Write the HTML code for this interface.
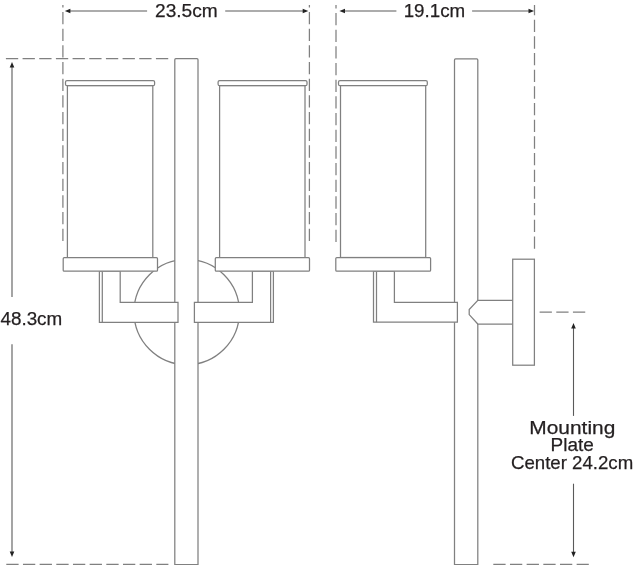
<!DOCTYPE html>
<html><head><meta charset="utf-8">
<style>
html,body{margin:0;padding:0;background:#fff;}
body{width:634px;height:565px;overflow:hidden;}
svg{display:block;}
#w{width:634px;height:565px;will-change:transform;}
text{font-family:"Liberation Sans",sans-serif;fill:#231f20;}
</style></head>
<body><div id="w">
<svg width="634" height="565" viewBox="0 0 634 565">
<rect x="0" y="0" width="634" height="565" fill="#fff"/>
<g fill="none" stroke="#808080" stroke-width="1.25">
  <!-- LEFT DRAWING -->
  <circle cx="186.7" cy="312" r="52.7"/>
  <path d="M174.8 564.6 L174.8 59.7 Q174.8 58.7 175.8 58.7 L197.0 58.7 Q198.0 58.7 198.0 59.7 L198.0 564.6 Z" fill="#fff"/>
  <!-- left arm -->
  <path d="M99.4 271 L99.4 322.3 L178 322.3 L178 302.3 L120.2 302.3 L120.2 271 Z" fill="#fff"/>
  <line x1="102.3" y1="271" x2="102.3" y2="322.3"/>
  <!-- right arm -->
  <path d="M273.4 271 L273.4 322.3 L194.4 322.3 L194.4 302.3 L252.4 302.3 L252.4 271 Z" fill="#fff"/>
  <line x1="270.6" y1="271" x2="270.6" y2="322.3"/>
  <!-- left lamp -->
  <rect x="67.4" y="85.5" width="85.4" height="172.2" fill="#fff"/>
  <rect x="65.5" y="80.5" width="89.1" height="5.2" rx="1.5" fill="#fff"/>
  <rect x="63.2" y="257.7" width="94.3" height="13.5" rx="1" fill="#fff"/>
  <!-- right lamp -->
  <rect x="219.6" y="85.5" width="85.4" height="172.2" fill="#fff"/>
  <rect x="218.1" y="80.5" width="88.9" height="5.2" rx="1.5" fill="#fff"/>
  <rect x="215.3" y="257.7" width="94.2" height="13.5" rx="1" fill="#fff"/>

  <!-- SIDE DRAWING -->
  <path d="M454.5 564.6 L454.5 59.9 Q454.5 58.9 455.5 58.9 L476.8 58.9 Q477.8 58.9 477.8 59.9 L477.8 564.6 Z" fill="#fff"/>
  <path d="M512.7 300.3 L477.8 300.3 L469.2 309.6 L469.2 314.6 L477.8 324 L512.7 324 Z" fill="#fff" stroke="none"/>
  <path d="M512.7 300.3 L477.8 300.3 L469.2 309.6 L469.2 314.6 L477.8 324 L512.7 324"/>
  <rect x="512.7" y="259.2" width="21.7" height="106" fill="#fff"/>
  <path d="M373.5 271.2 L373.5 322.2 L457.4 322.2 L457.4 302.3 L394.4 302.3 L394.4 271.2 Z" fill="#fff"/>
  <line x1="376.5" y1="271.2" x2="376.5" y2="322.2"/>
  <rect x="340.5" y="85.4" width="85.2" height="172.1" fill="#fff"/>
  <rect x="338.5" y="80.6" width="88.8" height="5.1" rx="1.5" fill="#fff"/>
  <rect x="335.8" y="257.5" width="94.8" height="13.7" rx="1" fill="#fff"/>
</g>
<!-- dashed -->
<g fill="none" stroke="#808080" stroke-width="1.25" stroke-dasharray="12.3 4.37">
  <line x1="62.9" y1="5" x2="62.9" y2="241" stroke-dashoffset="9.7"/>
  <line x1="309.4" y1="5" x2="309.4" y2="241" stroke-dashoffset="9.7"/>
  <line x1="336.0" y1="5" x2="336.0" y2="242.5" stroke-dashoffset="8.7"/>
  <line x1="534.5" y1="5" x2="534.5" y2="249.4" stroke-dashoffset="2.0"/>
  <line x1="5.9" y1="58.6" x2="168.4" y2="58.6"/>
  <line x1="6.3" y1="564.3" x2="168.4" y2="564.3"/>
  <line x1="493.3" y1="564.3" x2="588.8" y2="564.3"/>
  <line x1="539.6" y1="312.1" x2="585.3" y2="312.1"/>
</g>
<!-- arrows -->
<g fill="none" stroke="#5a5a5a" stroke-width="1.1">
  <line x1="68" y1="11" x2="147.1" y2="11"/>
  <line x1="225.2" y1="11" x2="305" y2="11"/>
  <line x1="343" y1="11" x2="396.4" y2="11"/>
  <line x1="472.1" y1="11" x2="531" y2="11"/>
  <line x1="12" y1="65" x2="12" y2="297"/>
  <line x1="12" y1="344.3" x2="12" y2="554"/>
  <line x1="573.5" y1="326" x2="573.5" y2="415.9"/>
  <line x1="573.5" y1="483.7" x2="573.5" y2="554"/>
</g>
<g fill="#222" stroke="none">
  <path d="M64.80 11.00 L70.40 8.70 L70.40 13.30 Z"/>
  <path d="M308.30 11.00 L302.70 8.70 L302.70 13.30 Z"/>
  <path d="M339.40 11.00 L345.00 8.70 L345.00 13.30 Z"/>
  <path d="M534.10 11.00 L528.50 8.70 L528.50 13.30 Z"/>
  <path d="M12.00 61.90 L9.70 67.50 L14.30 67.50 Z"/>
  <path d="M12.00 557.10 L9.70 551.50 L14.30 551.50 Z"/>
  <path d="M573.50 322.90 L571.20 328.50 L575.80 328.50 Z"/>
  <path d="M573.50 557.30 L571.20 551.70 L575.80 551.70 Z"/>
</g>
<g font-size="19.25" stroke="#231f20" stroke-width="0.25">
  <text x="155.03" y="17.20" textLength="62.68" lengthAdjust="spacingAndGlyphs">23.5cm</text>
  <text x="403.65" y="17.20" textLength="61.55" lengthAdjust="spacingAndGlyphs">19.1cm</text>
  <text x="0.44" y="324.50" textLength="61.82" lengthAdjust="spacingAndGlyphs">48.3cm</text>
  <text x="529.33" y="433.60" textLength="86.00" lengthAdjust="spacingAndGlyphs">Mounting</text>
  <text x="550.55" y="450.50" textLength="43.25" lengthAdjust="spacingAndGlyphs">Plate</text>
  <text x="510.95" y="468.50" textLength="122.29" lengthAdjust="spacingAndGlyphs">Center 24.2cm</text>
</g>
</svg></div>
</body></html>
